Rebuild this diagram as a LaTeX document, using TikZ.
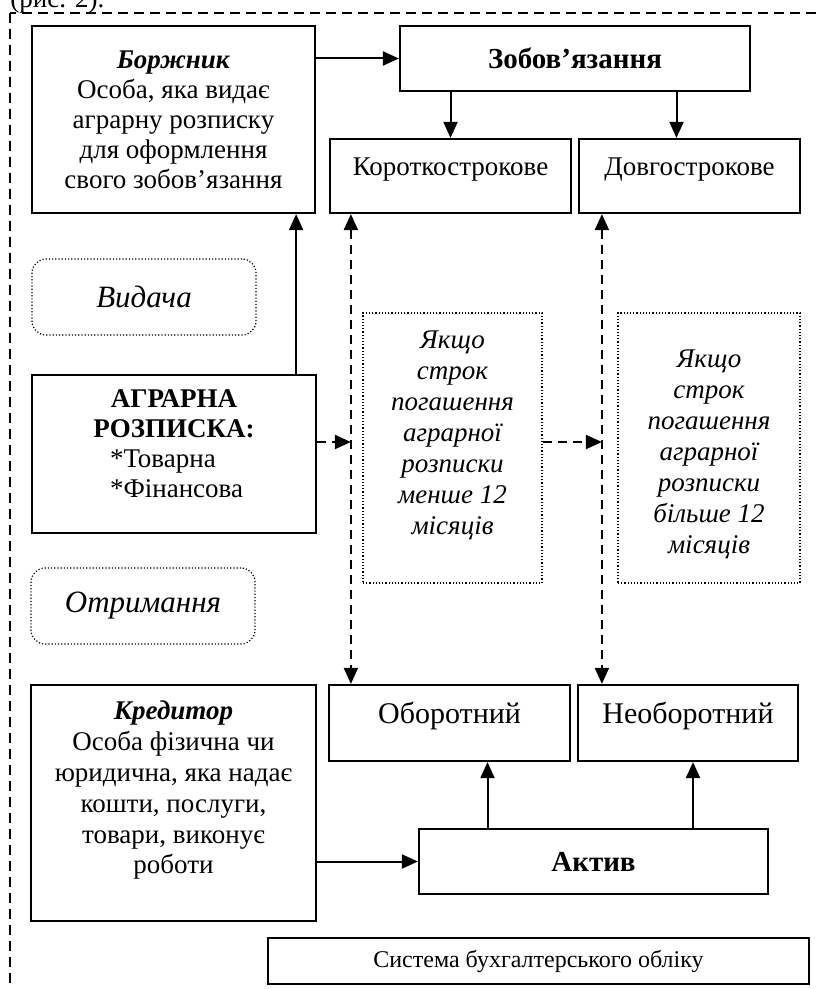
\documentclass[tikz,border=0pt]{standalone}
\usepackage{fontspec}
\setmainfont{Liberation Serif}
\usetikzlibrary{arrows.meta}

\definecolor{schemeInk}{HTML}{000000}

\newcommand{\bodyfont}{\fontsize{13.5}{15}\selectfont}
\newcommand{\itemline}[1]{\makebox[64pt][l]{#1}}

\tikzset{
  box/.style={draw=schemeInk,line width=1.1pt,align=center,inner sep=0pt},
  tagbox/.style={box,text height=9pt,text depth=9pt},
  stagebox/.style={draw=schemeInk,densely dotted,line width=0.6pt,rounded corners=7pt,
    font=\fontsize{15.5}{17}\selectfont\itshape},
  condbox/.style={draw=schemeInk,densely dotted,line width=0.6pt,align=center,
    font=\fontsize{13.5}{15.5}\selectfont\itshape},
  arr/.style={->,draw=schemeInk,line width=1pt},
  dasharr/.style={draw=schemeInk,line width=1pt,dash pattern=on 4.5pt off 3pt},
  frame/.style={draw=schemeInk,line width=0.6pt,dash pattern=on 5pt off 3pt}
}

\begin{document}
\begin{tikzpicture}[x=0.5pt,y=-0.5pt,font=\bodyfont,>={Triangle[length=8pt,width=7pt]}]
  \useasboundingbox (0,0) rectangle (817,989);

  \node[anchor=base west,inner sep=0pt] (figref) at (10,8) {(рис. 2).};
  \draw[frame] (10,13) rectangle (840,1010);

  % top row
  \node[box,minimum width=141.5pt,minimum height=93.5pt] (borzh) at (173.5,119.5)
    {\textbf{\textit{Боржник}}\\Особа, яка видає\\аграрну розписку\\для оформлення\\свого зобов’язання};
  \node[box,font=\fontsize{14.5}{16}\selectfont\bfseries,minimum width=175pt,minimum height=32.5pt] (zob) at (575,58.5) {Зобов’язання};
  \node[tagbox,minimum width=120.5pt,minimum height=37pt] (short) at (450.5,176) {Короткострокове};
  \node[tagbox,minimum width=110.5pt,minimum height=37pt] (long) at (689.5,176) {Довгострокове};

  % middle
  \node[stagebox,minimum width=112pt,minimum height=38pt] (issue) at (144,297) {Видача};
  \node[box,minimum width=142pt,minimum height=79pt] (agrar) at (174,454)
    {\textbf{АГРАРНА}\\\textbf{РОЗПИСКА:}\\\itemline{*Товарна}\\\itemline{*Фінансова}\\[-5pt]\mbox{}};
  \node[stagebox,minimum width=112pt,minimum height=38pt] (receive) at (143,606) {Отримання};
  \node[condbox,minimum width=89.5pt,minimum height=135pt] (shortc) at (452.5,448)
    {Якщо\\строк\\погашення\\аграрної\\розписки\\менше 12\\місяців\\\mbox{}};
  \node[condbox,minimum width=91pt,minimum height=135pt] (longc) at (709,448)
    {\mbox{}\\Якщо\\строк\\погашення\\аграрної\\розписки\\більше 12\\місяців};

  % bottom row
  \node[box,font=\fontsize{13.5}{15.4}\selectfont,minimum width=142.5pt,minimum height=118pt] (kred) at (173.5,803)
    {\textbf{\textit{Кредитор}}\\Особа фізична чи\\юридична, яка надає\\кошти, послуги,\\товари, виконує\\роботи\\\mbox{}};
  \node[tagbox,font=\fontsize{15}{17}\selectfont,minimum width=120.5pt,minimum height=38pt] (obor) at (449.5,723) {Оборотний};
  \node[tagbox,font=\fontsize{15}{17}\selectfont,minimum width=110pt,minimum height=38pt] (neobor) at (688,723) {Необоротний};
  \node[box,font=\fontsize{14.5}{16}\selectfont\bfseries,minimum width=174.5pt,minimum height=32.5pt] (aktiv) at (593.5,861.5) {Актив};
  \node[box,font=\fontsize{12}{13}\selectfont,minimum width=270.5pt,minimum height=23pt] (sys) at (538.5,961) {Система бухгалтерського обліку};

  \coordinate (shortv) at ([xshift=11pt]short.south west);
  \coordinate (longv) at ([xshift=12pt]long.south west);

  % connectors
  \draw[arr] (borzh.east |- zob.west) -- (zob.west);
  \draw[arr] (zob.south -| short.north) -- (short.north);
  \draw[arr] ([xshift=-6.5pt]long.north |- zob.south) -- ([xshift=-6.5pt]long.north);
  \draw[arr] ([xshift=-10pt]borzh.south east |- agrar.north) -- ([xshift=-10pt]borzh.south east);
  \draw[dasharr,<->] (shortv) -- (shortv |- obor.north);
  \draw[dasharr,<->] (longv) -- (longv |- neobor.north);
  \draw[dasharr,->] ([yshift=6pt]agrar.east) -- ([yshift=6pt]agrar.east -| shortv);
  \draw[dasharr,->] ([yshift=6pt]agrar.east -| shortc.east) -- ([yshift=6pt]agrar.east -| longv);
  \draw[arr] ([xshift=19pt]obor.south |- aktiv.north) -- ([xshift=19pt]obor.south);
  \draw[arr] ([xshift=2.5pt]neobor.south |- aktiv.north) -- ([xshift=2.5pt]neobor.south);
  \draw[arr] (kred.east |- aktiv.west) -- (aktiv.west);
\end{tikzpicture}
\end{document}
